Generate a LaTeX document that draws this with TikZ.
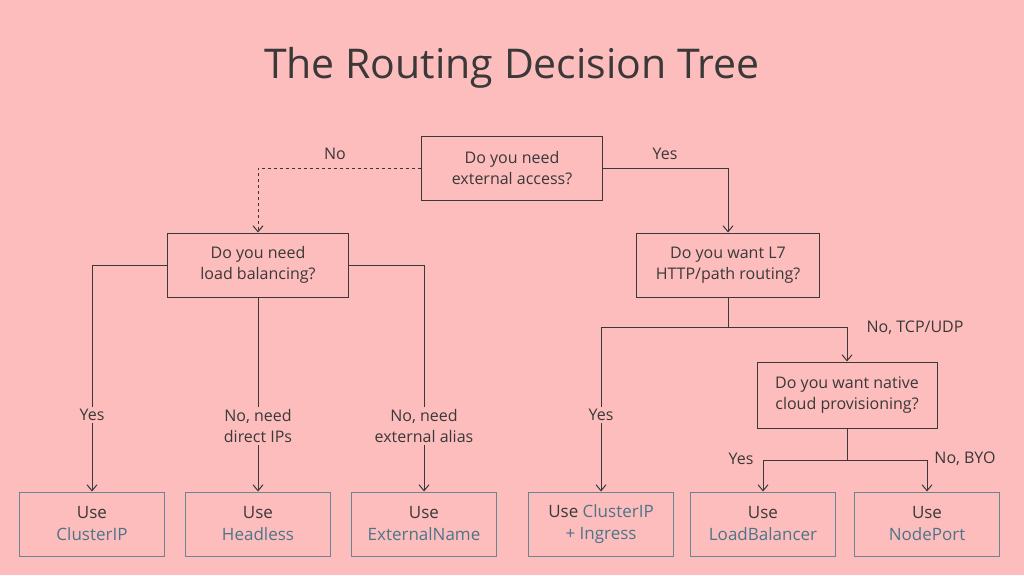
\documentclass[tikz,border=0pt]{standalone}
\usepackage{fontspec}
\setmainfont{Open Sans}
\usetikzlibrary{arrows.meta}
\definecolor{bg}{HTML}{FDBDBD}
\definecolor{ln}{HTML}{3A3838}
\definecolor{bl}{HTML}{4D7488}
\definecolor{bb}{HTML}{6A8494}
\begin{document}
\begin{tikzpicture}[x=1pt,y=-1pt,
  q/.style={draw=ln,line width=1pt,minimum width=181pt,minimum height=64pt,align=center,text=ln,font=\fontsize{16}{21}\selectfont},
  r/.style={draw=bb,line width=1pt,minimum width=145pt,minimum height=64pt,align=center,text=ln,font=\fontsize{17}{22}\selectfont},
  lab/.style={fill=bg,inner sep=2pt,align=center,text=ln,font=\fontsize{16}{21}\selectfont},
  lb/.style={text=ln,font=\fontsize{16}{21}\selectfont},
  ar/.style={draw=ln,line width=1pt,-{Straight Barb[length=6pt,width=10pt]}}]
\fill[bg] (0,0) rectangle (1024,575);
\useasboundingbox (0,0) rectangle (1024,575);
\node[text=ln,font=\fontsize{41}{44}\selectfont] (title) at (512,68) {The Routing Decision Tree};
\node[q] (q1) at (512,168) {Do you need\\external access?};
\node[q] (q2) at (258,265) {Do you need\\load balancing?};
\node[q,minimum width=183pt] (q3) at (728,265) {Do you want L7\\HTTP/path routing?};
\node[q,minimum width=180pt,minimum height=66pt] (q4) at (847,395) {Do you want native\\cloud provisioning?};
\node[r] (r1) at (92,524) {Use\\\textcolor{bl}{ClusterIP}};
\node[r] (r2) at (258,524) {Use\\\textcolor{bl}{Headless}};
\node[r] (r3) at (424,524) {Use\\\textcolor{bl}{ExternalName}};
\node[r] (r4) at (601,524) {Use \textcolor{bl}{ClusterIP}\\\textcolor{bl}{+ Ingress}};
\node[r] (r5) at (763,524) {Use\\\textcolor{bl}{LoadBalancer}};
\node[r] (r6) at (927,524) {Use\\\textcolor{bl}{NodePort}};
\coordinate (j1) at (728,327);
\coordinate (j2) at (847,460);
\draw[ar,dashed] (q1.west) -| (q2.north);
\draw[ar] (q1.east) -| (q3.north);
\node[lb] at (335,154) {No};
\node[lb] at (665,154) {Yes};
\draw[ar] (q2.west) -| (r1.north);
\draw[ar] (q2.south) -- (r2.north);
\draw[ar] (q2.east) -| (r3.north);
\node[lab] at (92,415) {Yes};
\node[lab] at (258,426) {No, need\\direct IPs};
\node[lab] at (424,426) {No, need\\external alias};
\draw[draw=ln,line width=1pt] (q3.south) -- (j1);
\draw[ar] (j1) -| (r4.north);
\draw[ar] (j1) -| (q4.north);
\node[lab] at (601,415) {Yes};
\node[lb] at (915,328) {No, TCP/UDP};
\draw[draw=ln,line width=1pt] (q4.south) -- (j2);
\draw[ar] (j2) -| (r5.north);
\draw[ar] (j2) -| (r6.north);
\node[lb] at (741,459) {Yes};
\node[lb] at (965,459) {No, BYO};
\end{tikzpicture}
\end{document}
